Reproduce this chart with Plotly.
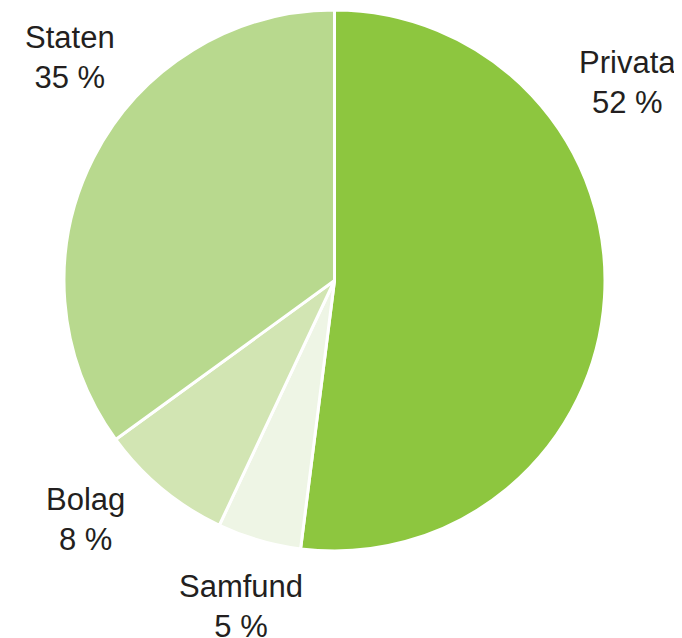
import plotly.graph_objects as go

labels = ['Privata', 'Samfund', 'Bolag', 'Staten']
values = [52, 5, 8, 35]
colors = ['#8dc63f', '#eef5e5', '#d2e5b3', '#b8d98e']

# label block: centre x and cap-top of first line, page pixels from top-left
label_pos = {
    'Privata': (627, 52),
    'Samfund': (241, 576),
    'Bolag': (85, 489),
    'Staten': (70, 27),
}

# the page body has an 8px margin, so the figure starts at (8, 8)
OFF = 8
W, H = 682 - OFF, 638 - OFF


def fx(px):
    return (px - OFF) / W


def fy(py):
    return 1 - (py - OFF) / H


fig = go.Figure(
    go.Pie(
        labels=labels,
        values=values,
        sort=False,
        direction='clockwise',
        rotation=0,
        textinfo='none',
        hoverinfo='label+percent',
        marker={'colors': colors, 'line': {'color': 'white', 'width': 3}},
        domain={'x': [fx(64), fx(605)], 'y': [fy(551), fy(10)]},
        showlegend=False,
    )
)

for lab, val in zip(labels, values):
    px, py = label_pos[lab]
    fig.add_annotation(
        x=fx(px), y=fy(py - 9), xref='paper', yref='paper',
        text='%s<br>%d %%' % (lab, val),
        showarrow=False, xanchor='center', yanchor='top',
        font={'family': 'Liberation Sans, Arial', 'size': 31, 'color': '#231f20'},
    )

fig.update_layout(
    width=W, height=H,
    margin={'l': 0, 'r': 0, 't': 0, 'b': 0},
    paper_bgcolor='white',
    plot_bgcolor='white',
)

fig.write_html('out.html')
